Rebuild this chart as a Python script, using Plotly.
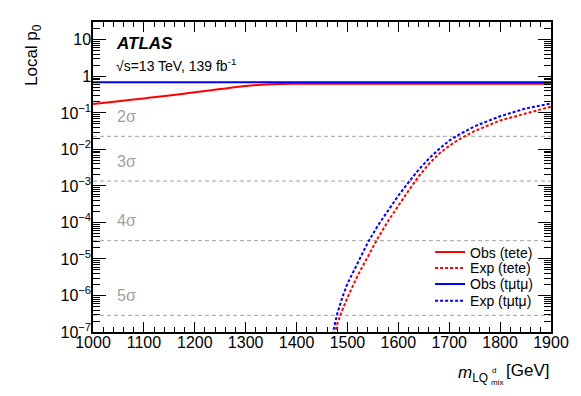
import math
import plotly.graph_objects as go

# ---------------- data ----------------
mass_obs = [1000, 1050, 1100, 1150, 1200, 1250, 1300, 1350, 1400, 1500, 1600, 1700, 1800, 1900]
obs_tete = [0.175, 0.21, 0.25, 0.30, 0.37, 0.45, 0.55, 0.61, 0.63, 0.63, 0.63, 0.63, 0.63, 0.63]
obs_tmtm = [0.69, 0.69, 0.69, 0.69, 0.69, 0.69, 0.69, 0.69, 0.69, 0.69, 0.69, 0.69, 0.69, 0.69]

mass_exp_tmtm = [1460, 1470, 1480, 1490, 1500, 1520, 1540, 1560, 1580, 1600, 1620, 1640,
                 1660, 1680, 1700, 1720, 1750, 1800, 1850, 1900]
exp_tmtm = [2.5e-8, 7.9e-8, 3.2e-7, 8.9e-7, 2.1e-6, 7.9e-6, 2.8e-5, 8.3e-5, 2.2e-4, 5.4e-4,
            1.26e-3, 2.8e-3, 5.6e-3, 1.02e-2, 1.74e-2, 2.57e-2, 4.3e-2, 8.1e-2, 0.132, 0.182]

mass_exp_tete = [1465, 1475, 1480, 1490, 1500, 1520, 1540, 1560, 1580, 1600, 1620, 1640,
                 1660, 1680, 1700, 1720, 1750, 1800, 1850, 1900]
exp_tete = [2.5e-8, 7.9e-8, 1.66e-7, 4.0e-7, 8.7e-7, 3.5e-6, 1.17e-5, 3.8e-5, 1.1e-4, 2.95e-4,
            7.4e-4, 1.82e-3, 4.0e-3, 7.6e-3, 1.26e-2, 1.9e-2, 3.2e-2, 6.2e-2, 9.8e-2, 0.148]

sigma_labels = ["2σ", "3σ", "4σ", "5σ"]
sigma_p0 = [0.02275, 0.00135, 3.167e-5, 2.867e-7]

x_range = [1000, 1900]
y_tickvals = [1e-7, 1e-6, 1e-5, 1e-4, 1e-3, 1e-2, 1e-1, 1, 10]
y_ticktext = ["10<sup>−7</sup>", "10<sup>−6</sup>", "10<sup>−5</sup>", "10<sup>−4</sup>",
              "10<sup>−3</sup>", "10<sup>−2</sup>", "10<sup>−1</sup>", "1", "10"]
x_tickvals = [1000, 1100, 1200, 1300, 1400, 1500, 1600, 1700, 1800, 1900]

# minor tick positions on log axis (2..9 per decade)
y_minor = [k * 10.0 ** d for d in range(-7, 2) for k in range(2, 10)]

FONT = "Liberation Sans, Arial, Helvetica, sans-serif"
RED = "#ff0000"
BLUE = "#0000ff"

fig = go.Figure()

# sigma reference lines
for lab, p in zip(sigma_labels, sigma_p0):
    fig.add_trace(go.Scatter(x=x_range, y=[p, p], mode="lines", showlegend=False,
                             line=dict(color="#b4b4b4", width=1.2, dash="4px,3px"),
                             hoverinfo="skip"))
    fig.add_annotation(x=1043, y=math.log10(p), xref="x", yref="y", text=lab, showarrow=False,
                       xanchor="left", yanchor="middle", yshift=20,
                       font=dict(family=FONT, size=16, color="#a0a0a0"))

legend_rows = ["legend", "legend2", "legend3", "legend4"]
fig.add_trace(go.Scatter(x=mass_obs, y=obs_tete, mode="lines", name="Obs (tete)",
                         legend=legend_rows[0], line=dict(color=RED, width=2, shape="spline")))
fig.add_trace(go.Scatter(x=mass_exp_tete, y=exp_tete, mode="lines", name="Exp (tete)",
                         legend=legend_rows[1], line=dict(color=RED, width=2, dash="3px,2px")))
fig.add_trace(go.Scatter(x=mass_obs, y=obs_tmtm, mode="lines", name="Obs (tμtμ)",
                         legend=legend_rows[2], line=dict(color=BLUE, width=2)))
fig.add_trace(go.Scatter(x=mass_exp_tmtm, y=exp_tmtm, mode="lines", name="Exp (tμtμ)",
                         legend=legend_rows[3], line=dict(color=BLUE, width=2, dash="3px,2px")))

fig.update_xaxes(range=x_range, tickmode="array", tickvals=x_tickvals,
                 ticks="inside", ticklen=10, tickwidth=1, tickcolor="black",
                 minor=dict(ticks="inside", dtick=20, ticklen=5, tickcolor="black", showgrid=False),
                 showline=True, linecolor="black", linewidth=1.5, mirror="allticks",
                 showgrid=False, zeroline=False, ticklabelstandoff=-5,
                 tickfont=dict(family=FONT, size=16, color="black"))
fig.update_yaxes(type="log", range=[-7, 1.49], tickmode="array", tickvals=y_tickvals,
                 ticktext=y_ticktext,
                 ticks="inside", ticklen=13, tickwidth=1, tickcolor="black",
                 minor=dict(ticks="inside", tickmode="array", tickvals=y_minor, ticklen=7,
                            tickcolor="black", showgrid=False),
                 showline=True, linecolor="black", linewidth=1.5, mirror="allticks",
                 showgrid=False, zeroline=False, ticklabelstandoff=-3,
                 tickfont=dict(family=FONT, size=16, color="black"))

# ATLAS label
fig.add_annotation(x=0.045, y=0.93, xref="paper", yref="paper", text="<b><i>ATLAS</i></b>",
                   showarrow=False, xanchor="left", yanchor="middle",
                   font=dict(family=FONT, size=17, color="black"))
fig.add_annotation(x=0.045, y=0.86, xref="paper", yref="paper",
                   text="√s=13 TeV, 139 fb<sup>-1</sup>",
                   showarrow=False, xanchor="left", yanchor="middle",
                   font=dict(family=FONT, size=14, color="black"))

# axis titles
fig.add_annotation(x=0, y=1, xref="paper", yref="paper", text="Local p<sub>0</sub>",
                   showarrow=False, textangle=-90, xanchor="right", yanchor="top",
                   xshift=-47, font=dict(family=FONT, size=17, color="black"))
fig.add_annotation(x=1, y=0, xref="paper", yref="paper", text="<i>m</i><sub>LQ</sub>",
                   showarrow=False, xanchor="right", yanchor="middle", xshift=-61, yshift=-42,
                   font=dict(family=FONT, size=17, color="black"))
fig.add_annotation(x=1, y=0, xref="paper", yref="paper", text="[GeV]",
                   showarrow=False, xanchor="right", yanchor="middle", xshift=0, yshift=-38,
                   font=dict(family=FONT, size=17, color="black"))
fig.add_annotation(x=1, y=0, xref="paper", yref="paper", text="d",
                   showarrow=False, xanchor="left", yanchor="middle", xshift=-61, yshift=-38,
                   font=dict(family=FONT, size=8, color="black"))
fig.add_annotation(x=1, y=0, xref="paper", yref="paper", text="mix",
                   showarrow=False, xanchor="left", yanchor="middle", xshift=-62, yshift=-50,
                   font=dict(family=FONT, size=8, color="black"))

legend_y = [0.2564, 0.2051, 0.1538, 0.0994]
leg_common = dict(x=0.736, xanchor="left", yanchor="middle", bgcolor="rgba(0,0,0,0)",
                  font=dict(family=FONT, size=14, color="black"), itemwidth=30)

fig.update_layout(
    width=573, height=388,
    margin=dict(l=85, r=30, t=12, b=64),
    paper_bgcolor="white", plot_bgcolor="white",
    font=dict(family=FONT, color="black"),
    legend=dict(y=legend_y[0], **leg_common),
    legend2=dict(y=legend_y[1], **leg_common),
    legend3=dict(y=legend_y[2], **leg_common),
    legend4=dict(y=legend_y[3], **leg_common),
)

fig.write_html("out.html")
